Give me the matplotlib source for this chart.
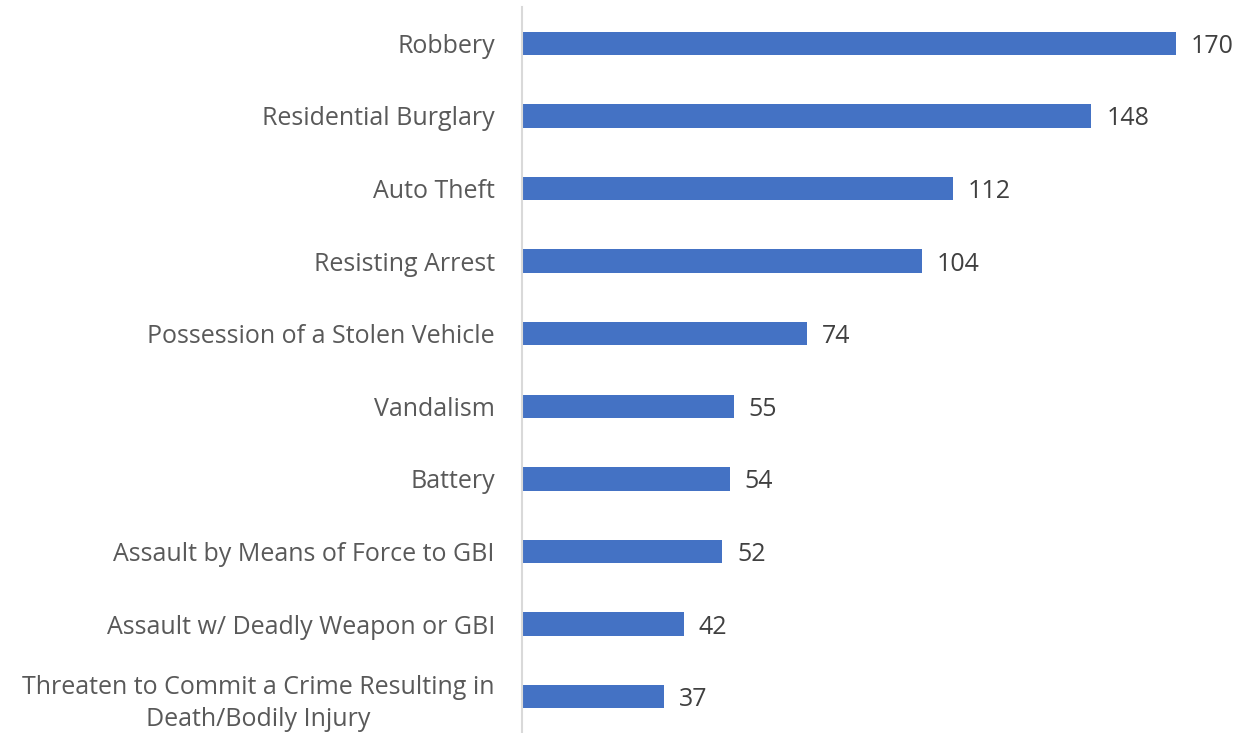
import matplotlib.pyplot as plt

categories = ["Robbery", "Residential Burglary", "Auto Theft", "Resisting Arrest",
              "Possession of a Stolen Vehicle", "Vandalism", "Battery",
              "Assault by Means of Force to GBI", "Assault w/ Deadly Weapon or GBI",
              "Threaten to Commit a Crime Resulting in\nDeath/Bodily Injury"]
counts = [170, 148, 112, 104, 74, 55, 54, 52, 42, 37]

plt.rcParams['font.family'] = ['Open Sans', 'DejaVu Sans']
text_color = '#595959'

fig = plt.figure(figsize=(12.5, 7.33), dpi=100)
ax = fig.add_axes([522 / 1250, 0, (1250 - 522) / 1250, (733 - 7) / 733])

y = list(range(len(categories)))
ax.barh(y, counts, height=0.32, color='#4472C4')
for yi, v in zip(y, counts):
    ax.text(v + 3.9, yi + 0.04, str(v), va='center', ha='left', fontsize=18, color='#404040')

ax.set_ylim(len(categories) - 0.5, -0.5)
ax.set_xlim(0, 728 / 3.847)
ax.set_yticks(y)
ax.set_yticklabels(categories, fontsize=18, color=text_color, ha='right',
                   multialignment='center', linespacing=1.4)
ax.tick_params(axis='y', length=0, pad=19.5)
ax.set_xticks([])
for s in ['top', 'right', 'bottom']:
    ax.spines[s].set_visible(False)
ax.spines['left'].set_color('#D9D9D9')
ax.spines['left'].set_linewidth(1.5)

fig.savefig('out.png', dpi=100)
